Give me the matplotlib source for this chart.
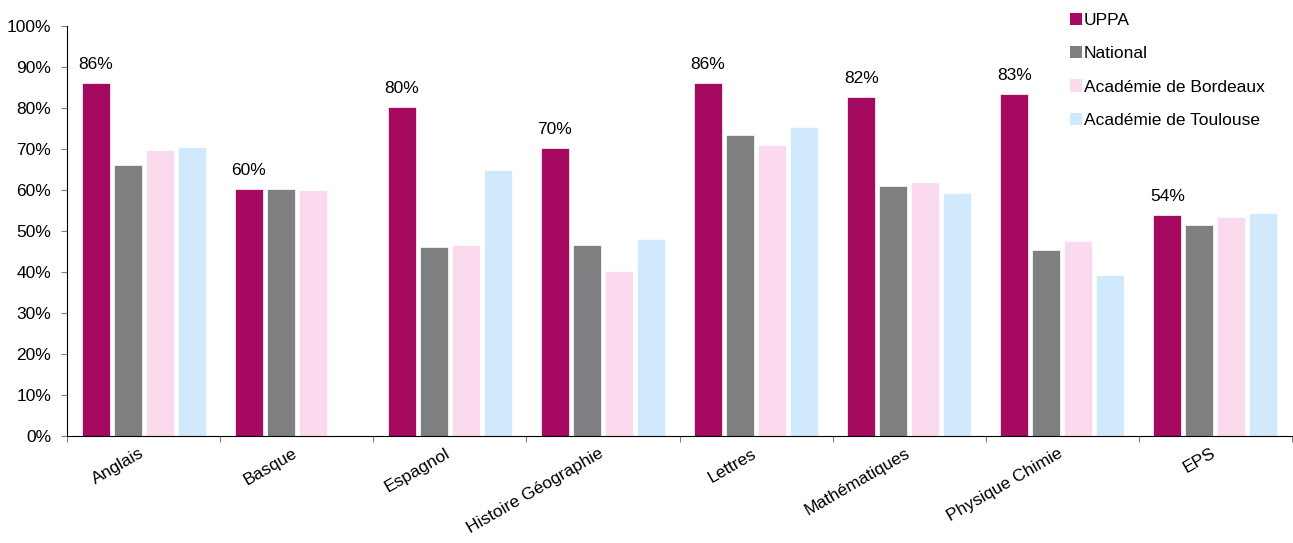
import numpy as np
import matplotlib
matplotlib.use("Agg")
import matplotlib.pyplot as plt
from matplotlib.patches import Patch

plt.rcParams["font.family"] = ["Liberation Sans", "DejaVu Sans"]

# Data (percent)
categories = ["Anglais", "Basque", "Espagnol", "Histoire Géographie",
              "Lettres", "Mathématiques", "Physique Chimie", "EPS"]
uppa = [86.0, 60.2, 80.3, 70.3, 86.0, 82.6, 83.5, 53.9]
national = [66.0, 60.2, 46.1, 46.6, 73.3, 61.0, 45.4, 51.4]
bordeaux = [69.8, 59.9, 46.6, 40.3, 71.0, 61.9, 47.5, 53.3]
toulouse = [70.4, np.nan, 64.9, 48.0, 75.4, 59.2, 39.3, 54.4]
uppa_labels = ["86%", "60%", "80%", "70%", "86%", "82%", "83%", "54%"]

series = [
    ("UPPA", uppa, "#A50A60"),
    ("National", national, "#7E7F81"),
    ("Académie de Bordeaux", bordeaux, "#FBDAEE"),
    ("Académie de Toulouse", toulouse, "#D0E9FC"),
]


def main():
    fig = plt.figure(figsize=(12.93, 5.43), dpi=100)
    ax = fig.add_axes([67 / 1293, 1 - 436 / 543, 1225 / 1293, 410 / 543])

    x = np.arange(len(categories))
    pitch = 0.209
    width = 0.183
    offsets = [-1.5 * pitch, -0.5 * pitch, 0.5 * pitch, 1.5 * pitch]
    handles = []
    for k, (name, vals, color) in enumerate(series):
        ax.bar(x + offsets[k], vals, width, color=color, edgecolor="white",
               linewidth=0.5, zorder=2)
        handles.append(Patch(facecolor=color, edgecolor="none", label=name))

    for i, lab in enumerate(uppa_labels):
        ax.annotate(lab, (x[i] + offsets[0], uppa[i]), xytext=(0, 8),
                    textcoords="offset points", ha="center", va="bottom",
                    fontsize=12.5)

    ax.set_xlim(-0.5, len(categories) - 0.5)
    ax.set_ylim(0, 100)
    ax.set_yticks(np.arange(0, 101, 10))
    ax.set_yticklabels([f"{v}%" for v in range(0, 101, 10)], fontsize=12.5)
    ax.set_xticks(np.arange(len(categories) + 1) - 0.5)
    ax.set_xticklabels([])
    # label anchors nudged a little left of the group centres
    ax.set_xticks(x - 0.03, minor=True)
    ax.set_xticklabels(categories, minor=True, rotation=30, ha="right",
                       rotation_mode="anchor", fontsize=12.5)
    ax.tick_params(axis="x", which="minor", length=0, pad=7)
    ax.tick_params(axis="x", which="major", length=4.5, direction="out",
                   color="#808080")
    ax.tick_params(axis="y", length=4.5, color="#808080", pad=7)
    ax.spines["top"].set_visible(False)
    ax.spines["right"].set_visible(False)
    ax.spines["left"].set_color("black")
    ax.spines["bottom"].set_color("black")

    fig.legend(handles=handles, loc="upper left",
               bbox_to_anchor=(1061 / 1293, 1 - 4 / 543), frameon=False,
               fontsize=12.5, handlelength=0.7, handleheight=0.7,
               handletextpad=0.12, labelspacing=1.05, borderpad=0)

    fig.savefig("out.png", dpi=100)


if __name__ == "__main__":
    main()
